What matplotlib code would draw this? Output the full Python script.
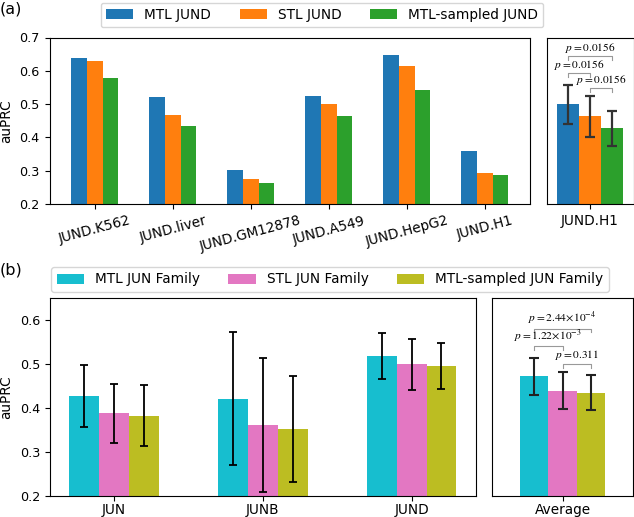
import matplotlib
matplotlib.use("Agg")
import matplotlib.pyplot as plt
import numpy as np

plt.rcParams['font.family'] = ['DejaVu Sans']
plt.rcParams['mathtext.fontset'] = 'stix'

# ---------- data (a) ----------
cells_a = ["JUND.K562", "JUND.liver", "JUND.GM12878", "JUND.A549", "JUND.HepG2", "JUND.H1"]
series_a = ["MTL JUND", "STL JUND", "MTL-sampled JUND"]
mtl_a = [0.637, 0.520, 0.303, 0.523, 0.646, 0.358]
stl_a = [0.630, 0.467, 0.275, 0.500, 0.614, 0.293]
samp_a = [0.578, 0.434, 0.263, 0.464, 0.541, 0.286]
h1_label = "JUND.H1"
h1_mean = [0.499, 0.463, 0.427]
h1_err = [0.058, 0.062, 0.053]
h1_pvals = ["0.0156", "0.0156", "0.0156"]

# ---------- data (b) ----------
tfs_b = ["JUN", "JUNB", "JUND"]
series_b = ["MTL JUN Family", "STL JUN Family", "MTL-sampled JUN Family"]
mtl_b = [0.427, 0.420, 0.518]
stl_b = [0.387, 0.360, 0.499]
samp_b = [0.382, 0.351, 0.494]
mtl_b_err = [0.070, 0.151, 0.052]
stl_b_err = [0.067, 0.152, 0.058]
samp_b_err = [0.069, 0.120, 0.052]
avg_label = "Average"
avg_mean = [0.471, 0.439, 0.434]
avg_err = [0.041, 0.043, 0.040]
avg_pvals = [r"2.44\!\times\!10^{-4}", r"1.22\!\times\!10^{-3}", "0.311"]

colors_a = ["#1f77b4", "#ff7f0e", "#2ca02c"]
colors_b = ["#17becf", "#e377c2", "#bcbd22"]

W, H = 634, 517
fig = plt.figure(figsize=(W / 100, H / 100), dpi=100)

def ax_px(l, r, t, b):
    return fig.add_axes([l / W, (H - b) / H, (r - l) / W, (b - t) / H])

ax1 = ax_px(49.5, 530, 37.5, 204)
ax2 = ax_px(546.5, 633.7, 37.5, 204)
ax3 = ax_px(50, 475.7, 297.7, 495.7)
ax4 = ax_px(491.7, 633.3, 297.7, 495.7)

bw = 0.2
offs = [-bw, 0, bw]
fs_tick = 9.2
fs_leg = 9.8

# (a) main
x = np.arange(len(cells_a))
handles_a = []
for o, vals, c, lab in zip(offs, [mtl_a, stl_a, samp_a], colors_a, series_a):
    h = ax1.bar(x + o, vals, bw, color=c, label=lab)
    handles_a.append(h)
ax1.set_ylim(0.2, 0.7)
ax1.set_xticks(x)
ax1.set_xticklabels(cells_a, rotation=15, ha='center', fontsize=fs_leg)
ax1.set_yticks([0.2, 0.3, 0.4, 0.5, 0.6, 0.7])
ax1.tick_params(axis='y', labelsize=fs_tick)
ax1.set_ylabel("auPRC", fontsize=fs_leg)
ax1.yaxis.set_label_coords((13 - 49.5) / 480.5, 0.5)

# (a) right
for o, v, e, c in zip(offs, h1_mean, h1_err, colors_a):
    ax2.bar(o, v, bw, color=c)
    ax2.errorbar(o, v, yerr=e, color='#333333', capsize=3.5, lw=1.6, capthick=1.6)
ax2.set_xlim(-0.4, 0.4)
ax2.set_ylim(0.2, 0.7)
ax2.set_xticks([0])
ax2.set_xticklabels([h1_label], fontsize=fs_leg)
ax2.set_yticks([])

def bracket(ax, x0, x1, y, drop, text, fs=8.2):
    ax.plot([x0, x0, x1, x1], [y - drop, y, y, y - drop], color='#999999', lw=0.8,
            clip_on=False)
    ax.text((x0 + x1) / 2, y + 0.003, r"$p = " + text + "$", ha='center', va='bottom',
            fontsize=fs, clip_on=True)

bracket(ax2, offs[0], offs[2], 0.645, 0.012, h1_pvals[0])
bracket(ax2, offs[0], offs[1], 0.594, 0.012, h1_pvals[1])
bracket(ax2, offs[1], offs[2], 0.547, 0.012, h1_pvals[2])

# (b) main
xb = np.arange(len(tfs_b))
handles_b = []
for o, vals, errs, c, lab in zip(offs, [mtl_b, stl_b, samp_b],
                                 [mtl_b_err, stl_b_err, samp_b_err], colors_b, series_b):
    h = ax3.bar(xb + o, vals, bw, color=c, label=lab)
    ax3.errorbar(xb + o, vals, yerr=errs, fmt='none', ecolor='black', capsize=3,
                 lw=1.3, capthick=1.3)
    handles_b.append(h)
ax3.set_ylim(0.2, 0.65)
ax3.set_xlim(-0.43, 2.43)
ax3.set_xticks(xb)
ax3.set_xticklabels(tfs_b, fontsize=fs_leg)
ax3.tick_params(axis='x', pad=1.5)
ax3.set_yticks([0.2, 0.3, 0.4, 0.5, 0.6])
ax3.tick_params(axis='y', labelsize=fs_tick)
ax3.set_ylabel("auPRC", fontsize=fs_leg)
ax3.yaxis.set_label_coords((13 - 50) / 425.7, 0.5)

# (b) right
for o, v, e, c in zip(offs, avg_mean, avg_err, colors_b):
    ax4.bar(o, v, bw, color=c)
    ax4.errorbar(o, v, yerr=e, color='#222222', capsize=3.5, lw=1.5, capthick=1.5)
ax4.set_xlim(-0.5, 0.5)
ax4.set_ylim(0.2, 0.65)
ax4.set_xticks([0])
ax4.set_xticklabels([avg_label], fontsize=fs_leg)
ax4.tick_params(axis='x', pad=1.5)
ax4.set_yticks([])

bracket(ax4, offs[0], offs[2], 0.580, 0.009, avg_pvals[0])
bracket(ax4, offs[0], offs[1], 0.540, 0.009, avg_pvals[1])
bracket(ax4, offs[1], offs[2], 0.500, 0.009, avg_pvals[2])

# legends
fig.legend(handles_a, series_a, loc='center', ncol=3, fontsize=fs_leg,
           bbox_to_anchor=(322 / W, 1 - 15 / H), frameon=True, columnspacing=2.1)
fig.legend(handles_b, series_b, loc='center', ncol=3, fontsize=fs_leg,
           bbox_to_anchor=(330 / W, 1 - 279.5 / H), frameon=True, columnspacing=2.1)

fig.text(0, 1 - 9 / H, "(a)", fontsize=11.5, va='center', ha='left')
fig.text(0, 1 - 270 / H, "(b)", fontsize=11.5, va='center', ha='left')

fig.savefig("out.png", dpi=100)
